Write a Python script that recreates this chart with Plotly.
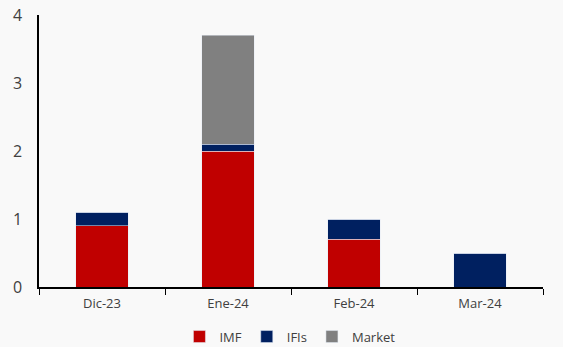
import plotly.graph_objects as go

categories = ["Dic-23", "Ene-24", "Feb-24", "Mar-24"]
imf = [0.9, 2.0, 0.7, 0]
ifis = [0.2, 0.1, 0.3, 0.5]
market = [0, 1.6, 0, 0]

fig = go.Figure()
fig.add_trace(go.Bar(name="IMF", x=categories, y=imf, marker_color="#C00000"))
fig.add_trace(go.Bar(name="IFIs", x=categories, y=ifis, marker_color="#002060"))
fig.add_trace(go.Bar(name="Market", x=categories, y=market, marker_color="#808080"))

fig.update_layout(
    barmode="stack",
    bargap=0.58,
    width=563, height=347,
    margin=dict(l=39, r=20, t=15, b=60, autoexpand=False),
    paper_bgcolor="#F9F9F9",
    plot_bgcolor="#F9F9F9",
    font=dict(family="Open Sans", size=13, color="#404040"),
    showlegend=True,
    legend=dict(orientation="h", x=0.515, xanchor="center", xref="container",
                y=0.03, yanchor="middle", yref="container",
                font=dict(size=13), traceorder="normal", itemwidth=30,
                tracegroupgap=0),
    xaxis=dict(showline=True, linecolor="black", linewidth=1.5, ticks="outside",
               tickson="boundaries", ticklen=6, tickcolor="black", showgrid=False,
               tickfont=dict(size=13), ticklabelstandoff=4, automargin=False),
    yaxis=dict(range=[0, 4], dtick=1, showline=True, linecolor="black", linewidth=1.5,
               showgrid=False, zeroline=False, ticks="", tickfont=dict(size=16),
               ticklabelstandoff=12, automargin=False),
)

fig.write_html("out.html")
